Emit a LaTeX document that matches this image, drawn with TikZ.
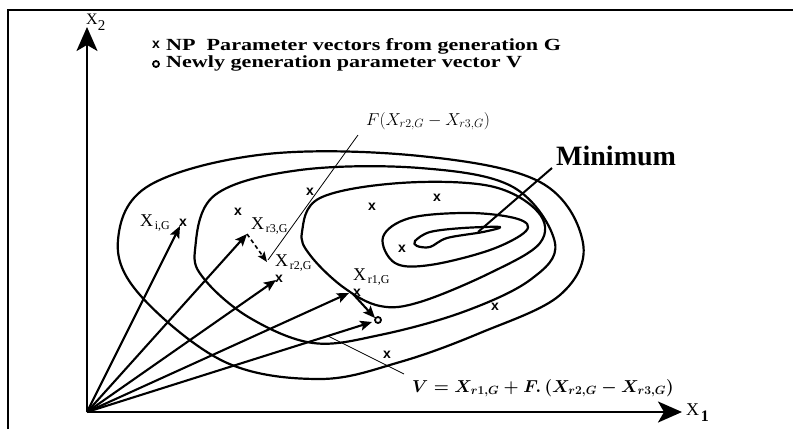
\documentclass[tikz,border=0pt]{standalone}
\usepackage{amsmath}
\usepackage{fontspec}
\setmainfont{Liberation Serif}
\newfontfamily\ptfont{Liberation Sans}
\usetikzlibrary{arrows.meta}
\newcommand{\Xlab}[1]{{\fontsize{18}{18}\selectfont X}\,\raisebox{-3pt}{\fontsize{12}{12}\selectfont #1}}
\begin{document}
\begin{tikzpicture}[x=1pt,y=-1pt,
  contour/.style={line width=2.2pt,line join=round},
  vec/.style={line width=2.1pt,-{Stealth[length=12pt,width=10pt,inset=2.5pt]}},
  dvec/.style={line width=1.6pt,dash pattern=on 4pt off 3pt,-{Stealth[length=10pt,width=8pt,inset=2pt]}},
  axis/.style={line width=2.3pt,-{Stealth[length=24pt,width=21pt,inset=6pt]}},
  thinline/.style={line width=0.8pt},
  ptx/.style={font=\ptfont\bfseries\fontsize{14}{14}\selectfont,inner sep=0pt},
  lab/.style={inner sep=0pt,anchor=west},
  legend/.style={inner sep=0pt,anchor=west,font=\bfseries\fontsize{17}{17}\selectfont}
]
\useasboundingbox (0,0) rectangle (793,429);
% frame
\draw[line width=2.2pt] (8,429) -- (8,10) -- (793,10);
% axes
\coordinate (O) at (87,412);
\coordinate (Ytop) at (87,27);
\coordinate (Xend) at (682,412);
\draw[axis] (O) -- (Ytop);
\draw[axis] (O) -- (Xend);
\node[lab] (x2) at (86,22) {{\fontsize{16}{16}\selectfont X}\raisebox{-6pt}{\fontsize{15}{15}\selectfont 2}};
\node[lab] (x1) at (686,413) {{\fontsize{18}{18}\selectfont X}\,\raisebox{-6pt}{\fontsize{16}{16}\selectfont\bfseries 1}};
% legend
\node[ptx] (lgx) at (156,45) {x};
\node[legend] (lg1) at (166,46) {\scalebox{1.3}[1]{NP\ \ Parameter vectors from generation G}};
\draw[line width=1.8pt] (156,64) circle (3pt) node (lgo) {};
\node[legend] (lg2) at (166,63) {\scalebox{1.3}[1]{Newly generation parameter vector V}};
% contours
\draw[contour] plot[smooth cycle,tension=0.6] coordinates {(118,240) (150,185) (267,154) (420,156) (540,182) (583,243) (560,295) (480,333) (400,362) (320,379) (225,362) (140,295)};
\draw[contour] plot[smooth cycle,tension=0.6] coordinates {(195,250) (215,195) (300,170) (420,168) (513,187) (555,243) (530,280) (463,312) (380,335) (313,343) (250,318) (205,280)};
\draw[contour] plot[smooth cycle,tension=0.6] coordinates {(302,232) (320,198) (400,183) (490,186) (538,212) (540,243) (490,273) (420,302) (380,306) (343,287) (310,255)};
\draw[contour] plot[smooth cycle,tension=0.6] coordinates {(383,237) (410,218) (470,213) (518,219) (526,231) (490,250) (430,265) (395,263)};
\draw[contour] plot[smooth cycle,tension=0.55] coordinates {(415,241) (430,232) (463,228) (500,227) (483,232) (447,238) (430,247) (417,246)};
% minimum
\node[inner sep=0pt,anchor=west,font=\bfseries\fontsize{28}{28}\selectfont] (minl) at (556,156) {Minimum};
\coordinate (minpt) at (478,232);
\coordinate (min0) at (552,168);
\draw[line width=2pt] (min0) -- (minpt);
% population points
\node[ptx] (p1) at (310,192) {x};
\node[ptx] (p2) at (372,207) {x};
\node[ptx] (p3) at (238,212) {x};
\node[ptx] (p4) at (437,198) {x};
\node[ptx] (p5) at (402,249) {x};
\node[ptx] (p6) at (495,307) {x};
\node[ptx] (p7) at (387,355) {x};
\node[ptx] (pi) at (183,223) {x};
\node[ptx] (pr2) at (279,279) {x};
\node[ptx] (pr1) at (357,293) {x};
\draw[line width=1.8pt] (378,320) circle (3pt) node (V) {};
% labels
\node[lab] (li) at (140,223) {\Xlab{i,G}};
\node[lab] (lr3) at (251,226) {\Xlab{r3,G}};
\node[lab] (lr2) at (275,263) {\Xlab{r2,G}};
\node[lab] (lr1) at (353,277) {\Xlab{r1,G}};
% vectors
\coordinate (ti) at (180,226);
\coordinate (tr3) at (247,234);
\coordinate (tr2) at (276,280);
\coordinate (tr1) at (349,293);
\coordinate (tv) at (372,322);
\draw[vec] (O) -- (ti);
\draw[vec] (O) -- (tr3);
\draw[vec] (O) -- (tr2);
\draw[vec] (O) -- (tr1);
\draw[vec] (O) -- (tv);
\draw[dvec] (tr3) -- (267,262);
\draw[vec] (353,294) -- (375,318);
% formula labels
\node[inner sep=0pt,anchor=west,font=\fontsize{17.5}{17.5}\selectfont] (fl) at (366,121) {$F(X_{r2,G}-X_{r3,G})$};
\coordinate (fl0) at (358,135);
\coordinate (fl1) at (268,260);
\draw[thinline] (fl0) -- (fl1);
\node[inner sep=0pt,anchor=west,font=\fontsize{17}{17}\selectfont] (vl) at (412,388) {$\boldsymbol{V = X_{r1,G} + F.\left(X_{r2,G} - X_{r3,G}\right)}$};
\coordinate (vl0) at (404,374);
\coordinate (vl1) at (328,336);
\draw[thinline] (vl0) -- (vl1);
\end{tikzpicture}
\end{document}
